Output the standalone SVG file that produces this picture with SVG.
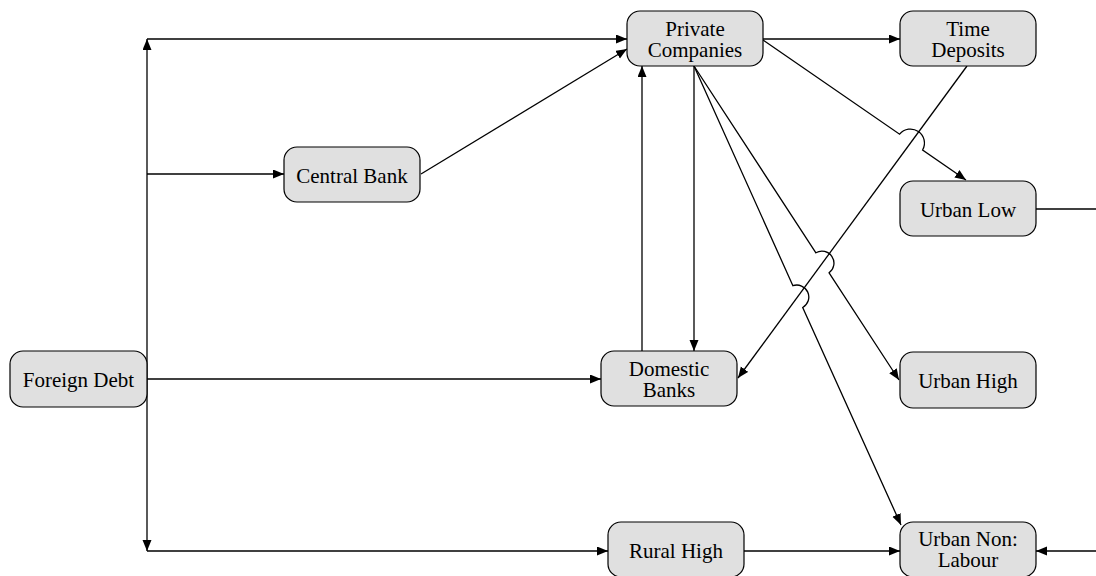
<svg xmlns="http://www.w3.org/2000/svg" width="1096" height="576" viewBox="0 0 1096 576">
<style>
.box{fill:#e0e0e0;stroke:#000;stroke-width:1.2}
.lbl{font-family:"Liberation Serif","Times New Roman",serif;font-size:21px;fill:#000;text-anchor:middle}
.e{fill:none;stroke:#000;stroke-width:1.3}
.a{marker-end:url(#ah)}
</style>
<defs>
<marker id="ah" markerUnits="userSpaceOnUse" markerWidth="12" markerHeight="10" refX="11" refY="4.5" orient="auto">
<path d="M0,0 L11,4.5 L0,9 z" fill="#000"/>
</marker>
</defs>
<rect width="1096" height="576" fill="#fff"/>
<g id="connectors">
<path class="e a" d="M147,379 V39"/>
<path class="e a" d="M147,39 H627"/>
<path class="e a" d="M147,174 H284"/>
<path class="e a" d="M147,379 H601"/>
<path class="e a" d="M147,379 V551"/>
<path class="e a" d="M147,551 H608"/>
<path class="e a" d="M421,174 L627,49"/>
<path class="e a" d="M763,39 H900"/>
<path class="e a" d="M642,351 V66"/>
<path class="e a" d="M694,66 V351"/>
<path class="e a" d="M763,40 L899.6,134.2 A14,14 0 0 1 922.6,150 L966,180"/>
<path class="e a" d="M967,66 L738,378"/>
<path class="e a" d="M694,66 L815.9,252.8 A12,12 0 0 1 829.1,272.8 L899,380"/>
<path class="e a" d="M694,66 L792.9,285.7 A12,12 0 0 1 802.7,307.5 L901,525"/>
<path class="e a" d="M744,551 H900"/>
<path class="e" d="M1036,209 H1096"/>
<path class="e a" d="M1096,551 H1036"/>
</g>
<g id="foreign-debt"><rect class="box" x="10" y="351" width="137" height="56" rx="13"/><text class="lbl" x="78.5" y="387">Foreign Debt</text></g>
<g id="central-bank"><rect class="box" x="284" y="147" width="136" height="55" rx="13"/><text class="lbl" x="352" y="182.5">Central Bank</text></g>
<g id="private-companies"><rect class="box" x="627" y="11" width="136" height="55" rx="13"/><text class="lbl" x="695" y="36">Private</text><text class="lbl" x="695" y="57">Companies</text></g>
<g id="time-deposits"><rect class="box" x="900" y="11" width="136" height="55" rx="13"/><text class="lbl" x="968" y="36">Time</text><text class="lbl" x="968" y="57">Deposits</text></g>
<g id="urban-low"><rect class="box" x="900" y="181" width="136" height="55" rx="13"/><text class="lbl" x="968" y="216.5">Urban Low</text></g>
<g id="domestic-banks"><rect class="box" x="601" y="351" width="136" height="55" rx="13"/><text class="lbl" x="669" y="376">Domestic</text><text class="lbl" x="669" y="397">Banks</text></g>
<g id="urban-high"><rect class="box" x="900" y="352" width="136" height="56" rx="13"/><text class="lbl" x="968" y="388">Urban High</text></g>
<g id="rural-high"><rect class="box" x="608" y="522" width="136" height="55" rx="13"/><text class="lbl" x="676" y="558">Rural High</text></g>
<g id="urban-non-labour"><rect class="box" x="900" y="522" width="136" height="55" rx="13"/><text class="lbl" x="968" y="546">Urban Non:</text><text class="lbl" x="968" y="567">Labour</text></g>
</svg>
